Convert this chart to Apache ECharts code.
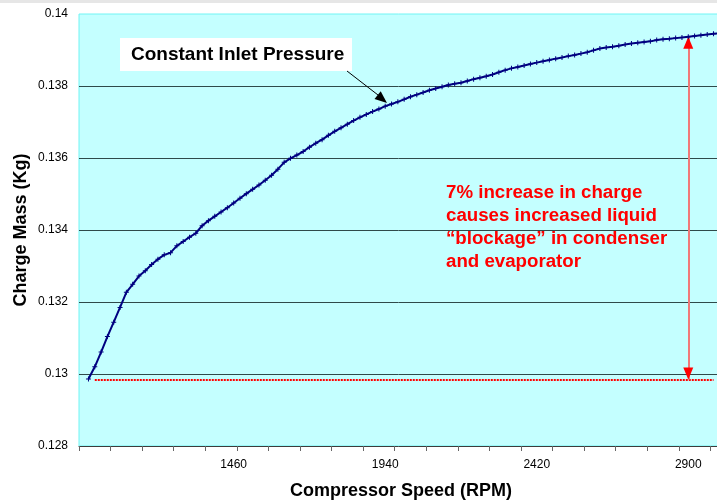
<!DOCTYPE html>
<html>
<head>
<meta charset="utf-8">
<script src="https://cdn.jsdelivr.net/npm/echarts@6/dist/echarts.min.js"></script>
<style>
  html, body { margin: 0; padding: 0; background: #fff; }
  #chart { width: 717px; height: 504px; }
</style>
</head>
<body>
<div id="chart"></div>
<script>
// compressor speed categories, 20 RPM apart (first slot has no reading)
const speeds = [];
for (let s = 980; s <= 3000; s += 20) speeds.push(String(s));

const shownLabels = ['1460', '1940', '2420', '2900'];

// charge mass (kg)
const chargeMass = [
  '-', 0.12986, 0.13020, 0.13061, 0.13104, 0.13144, 0.13185, 0.13227, 0.13249, 0.13272,
  0.13287, 0.13304, 0.13319, 0.13331, 0.13337, 0.13356, 0.13368, 0.13380, 0.13391, 0.13412,
  0.13426, 0.13438, 0.13450, 0.13462, 0.13475, 0.13488, 0.13501, 0.13513, 0.13525, 0.13538,
  0.13552, 0.13569, 0.13588, 0.13599, 0.13608, 0.13618, 0.13630, 0.13641, 0.13651, 0.13663,
  0.13674, 0.13684, 0.13694, 0.13704, 0.13713, 0.13721, 0.13729, 0.13736, 0.13744, 0.13750,
  0.13756, 0.13763, 0.13770, 0.13776, 0.13782, 0.13788, 0.13793, 0.13798, 0.13803, 0.13806,
  0.13809, 0.13814, 0.13819, 0.13823, 0.13827, 0.13832, 0.13838, 0.13844, 0.13849, 0.13853,
  0.13857, 0.13861, 0.13865, 0.13869, 0.13872, 0.13876, 0.13879, 0.13883, 0.13886, 0.13890,
  0.13894, 0.13899, 0.13904, 0.13907, 0.13909, 0.13912, 0.13915, 0.13918, 0.13920, 0.13922,
  0.13924, 0.13928, 0.13930, 0.13931, 0.13933, 0.13935, 0.13937, 0.13939, 0.13941, 0.13943,
  0.13945, 0.13947
];

// baseline (starting charge) and where the double arrow sits
const baseCharge = 0.12985;
const baseFrom = '1020', baseTo = '2980';
const arrowAt = '2900', arrowTop = 0.13937;

const font = 'Liberation Sans, Arial, sans-serif';
const chart = echarts.init(document.getElementById('chart'));

chart.setOption({
  backgroundColor: '#fff',
  animation: false,
  grid: {
    left: 79, top: 14, right: -6, bottom: 58,
    outerBoundsMode: 'none',
    containLabel: false,
    show: true, backgroundColor: '#c4ffff', borderColor: '#70f4f4', borderWidth: 1
  },
  xAxis: {
    type: 'category',
    data: speeds,
    boundaryGap: true,
    name: 'Compressor Speed (RPM)',
    nameLocation: 'middle',
    nameGap: 36,
    nameTextStyle: { fontFamily: font, fontWeight: 'bold', fontSize: 18, color: '#000' },
    axisLine: { show: true, onZero: false, lineStyle: { color: '#3c3c3c', width: 1 } },
    axisTick: { show: true, interval: (i) => i % 5 === 0, length: 5, lineStyle: { color: '#666', width: 1 } },
    axisLabel: {
      interval: (i, v) => shownLabels.includes(v),
      margin: 13, fontFamily: font, fontSize: 12, color: '#000'
    },
    splitLine: { show: false },
    z: 3
  },
  yAxis: {
    type: 'value',
    min: 0.128, max: 0.14, interval: 0.002,
    name: 'Charge Mass (Kg)',
    nameLocation: 'middle',
    nameGap: 49,
    nameMoveOverlap: false,
    nameTextStyle: { fontFamily: font, fontWeight: 'bold', fontSize: 18, color: '#000' },
    axisLine: { show: false },
    axisTick: { show: false },
    axisLabel: { margin: 11, fontFamily: font, fontSize: 12, color: '#000' },
    splitLine: { showMaxLine: false, showMinLine: false, lineStyle: { color: '#2f4a4a', width: 1 } }
  },
  series: [
    {
      type: 'line',
      data: chargeMass,
      symbol: 'path://M2,0H3V2H5V3H3V5H2V3H0V2H2Z',
      symbolSize: 5,
      showAllSymbol: true,
      itemStyle: { color: '#000080' },
      lineStyle: { color: '#000080', width: 2 },
      z: 5,
      markLine: {
        silent: true,
        symbol: ['none', 'none'],
        label: { show: false },
        data: [
          [{ xAxis: baseFrom, yAxis: baseCharge, lineStyle: { color: '#ff0000', width: 2, type: [2, 1] } },
           { xAxis: baseTo, yAxis: baseCharge }],
          [{ xAxis: arrowAt, yAxis: baseCharge, lineStyle: { color: '#f07878', width: 2, type: 'solid' } },
           { xAxis: arrowAt, yAxis: arrowTop }]
        ]
      },
      markPoint: {
        silent: true,
        label: { show: false },
        data: [
          { coord: [arrowAt, arrowTop], symbol: 'triangle', symbolSize: [10, 12],
            symbolOffset: [0, '50%'], itemStyle: { color: '#ff0000' } },
          { coord: [arrowAt, baseCharge], symbol: 'triangle', symbolSize: [10, 12], symbolRotate: 180,
            symbolOffset: [0, '-50%'], itemStyle: { color: '#ff0000' } }
        ]
      }
    }
  ],
  graphic: [
    { type: 'rect', shape: { x: 0, y: 0, width: 717, height: 3 }, style: { fill: '#e6e6e6' }, silent: true },
    // callout box
    { type: 'rect', shape: { x: 120, y: 38, width: 232, height: 33 }, style: { fill: '#fff' }, z: 20 },
    { type: 'text', x: 131, y: 54.5, z: 21,
      style: { text: 'Constant Inlet Pressure', font: 'bold 19px ' + font, fill: '#000', verticalAlign: 'middle' } },
    { type: 'line', shape: { x1: 347, y1: 71, x2: 378, y2: 95 }, style: { stroke: '#000', lineWidth: 1 }, z: 21 },
    { type: 'polygon', shape: { points: [[387, 103], [374.5, 99.1], [380.7, 91.3]] }, style: { fill: '#000' }, z: 21 },
    // red note
    { type: 'text', x: 446, y: 182, z: 21,
      style: {
        text: '7% increase in charge\ncauses increased liquid\n\u201cblockage\u201d in condenser\nand evaporator',
        font: 'bold 18.7px ' + font, fill: '#ff0000', lineHeight: 22.7
      } }
  ]
});
</script>
</body>
</html>
